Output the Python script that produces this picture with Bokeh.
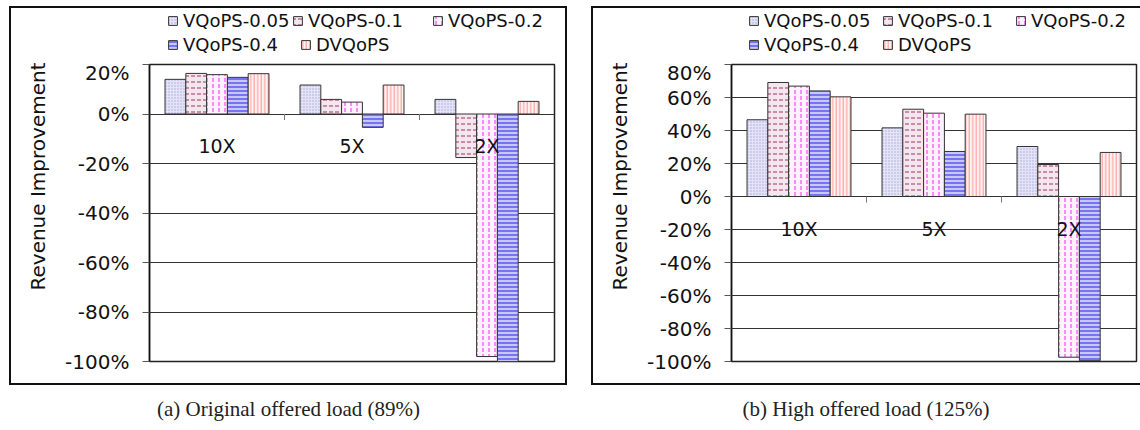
import numpy as np
from bokeh.plotting import figure
from bokeh.layouts import row, column
from bokeh.models import Range1d, FixedTicker, PrintfTickFormatter, Legend, LegendItem
from bokeh.core.properties import value
from bokeh.embed import file_html
from bokeh.resources import INLINE

# ---------------- data ----------------
categories = ["10X", "5X", "2X"]
series = ["VQoPS-0.05", "VQoPS-0.1", "VQoPS-0.2", "VQoPS-0.4", "DVQoPS"]

orig_vqops_005 = [14.0, 11.7, 5.9]
orig_vqops_01 = [16.4, 5.9, -17.6]
orig_vqops_02 = [15.9, 4.8, -98.0]
orig_vqops_04 = [14.8, -5.4, -100.0]
orig_dvqops = [16.3, 11.7, 5.1]

high_vqops_005 = [46.5, 41.6, 30.3]
high_vqops_01 = [69.1, 52.9, 19.4]
high_vqops_02 = [66.9, 50.5, -97.4]
high_vqops_04 = [64.0, 27.3, -99.5]
high_dvqops = [60.4, 49.9, 26.7]

orig_ticks = [20, 0, -20, -40, -60, -80, -100]
high_ticks = [80, 60, 40, 20, 0, -20, -40, -60, -80, -100]

y_title = "Revenue Improvement"
caption_a = "(a) Original offered load (89%)"
caption_b = "(b) High offered load (125%)"

# ---------------- styles ----------------
STYLES = [
    dict(fill_color="#e4e4f6", hatch_pattern=".", hatch_color="#a4a4dc", hatch_scale=3, hatch_weight=1),
    dict(fill_color="#f3e6ec", hatch_pattern='"', hatch_color="#a03462", hatch_scale=6, hatch_weight=1),
    dict(fill_color="#fff2ff", hatch_pattern=":", hatch_color="#ff22ff", hatch_scale=6, hatch_weight=1),
    dict(fill_color="#c8c8f8", hatch_pattern="-", hatch_color="#2020f0", hatch_scale=4, hatch_weight=1),
    dict(fill_color="#fff2f2", hatch_pattern="|", hatch_color="#ff9494", hatch_scale=3.5, hatch_weight=1),
]

FONT = "DejaVu Sans"
HEAD_H = 54
MAIN_H = 325
STRIP_W = 50
TOP, BOTTOM = 4, 24
FRAME_H = MAIN_H - TOP - BOTTOM
CAP_H = 40


def bare(width, height):
    f = figure(width=width, height=height, x_range=Range1d(0, width), y_range=Range1d(0, height),
               toolbar_location=None, output_backend="svg", title=None,
               x_axis_type=None, y_axis_type=None, min_border=0)
    f.outline_line_color = None
    f.border_fill_alpha = 0
    f.background_fill_alpha = 0
    return f


def make_panel(values, ticks, caption, box_w, border_right, legend_pos, label_x, box_style):
    ymin, ymax = min(ticks), max(ticks)
    n = len(categories)
    inner_w = box_w - STRIP_W

    # ---- y axis title strip (full box height) ----
    strip_h = HEAD_H + MAIN_H
    strip = bare(STRIP_W, strip_h)
    strip.text(x=[label_x], y=[strip_h - 170], text=[y_title], angle=np.pi / 2,
               text_align="center", text_baseline="middle", text_font=value(FONT),
               text_font_size=value("20px"), text_color="#111")

    # ---- legend header (its frame is aligned with the chart frame below) ----
    header = bare(inner_w, HEAD_H)
    for (lx, ly), name, st in zip(legend_pos, series, STYLES):
        r = header.vbar(x=[-box_w], top=[0], bottom=[0], width=0, line_color="#333",
                        line_width=1, **st)
        lg = Legend(items=[LegendItem(label=name, renderers=[r])], location=(lx, ly),
                    orientation="horizontal", border_line_color=None, background_fill_alpha=0,
                    padding=0, margin=0, spacing=0, glyph_width=11, glyph_height=11,
                    label_standoff=5, label_text_font=FONT, label_text_font_size="18px",
                    label_height=18, label_text_color="#111")
        header.add_layout(lg, "center")

    # ---- main chart ----
    p = figure(width=inner_w, height=MAIN_H, x_range=Range1d(0, n), y_range=Range1d(ymin, ymax),
               toolbar_location=None, output_backend="svg", title=None,
               min_border_left=90, min_border_right=border_right,
               min_border_top=TOP, min_border_bottom=BOTTOM)
    p.border_fill_alpha = 0
    p.outline_line_color = "#222"
    p.outline_line_width = 1.5

    bw = 0.154
    centers = np.arange(n) + 0.5
    for j, (vals, st) in enumerate(zip(values, STYLES)):
        xs = centers + (j - (len(series) - 1) / 2) * bw
        p.vbar(x=xs, top=vals, bottom=0, width=bw, line_color="#333", line_width=1, **st)

    p.text(x=centers, y=[0] * n, text=categories, text_align="center", text_baseline="middle",
           y_offset=32, text_font=value(FONT), text_font_size=value("19px"), text_color="#111")

    px_per_unit = FRAME_H / (ymax - ymin)
    bx = np.arange(1, n)
    p.segment(x0=bx, x1=bx, y0=[0] * len(bx), y1=[-6 / px_per_unit] * len(bx),
              line_color="#777", line_width=1)

    p.xaxis.visible = False
    p.xgrid.visible = False
    p.yaxis.ticker = FixedTicker(ticks=ticks)
    p.yaxis.formatter = PrintfTickFormatter(format="%d%%")
    p.yaxis.major_tick_out = 7
    p.yaxis.major_tick_in = 0
    p.yaxis.minor_tick_line_color = None
    p.yaxis.major_tick_line_color = "#555"
    p.yaxis.major_label_standoff = 13
    p.yaxis.axis_line_color = "#111"
    p.yaxis.axis_line_width = 1.5
    p.yaxis.major_label_text_font = FONT
    p.yaxis.major_label_text_font_size = "20px"
    p.yaxis.major_label_text_color = "#111"
    p.ygrid.grid_line_color = "#333"
    p.ygrid.grid_line_width = 1

    panel = row(strip, column(header, p, spacing=0), spacing=0)
    panel.styles = box_style

    cap = bare(box_w, CAP_H)
    cap.text(x=[box_w / 2], y=[CAP_H - 23], text=[caption], text_align="center",
             text_baseline="middle", text_font=value("Liberation Serif"),
             text_font_size=value("21px"), text_color="#222")
    return column(panel, cap, spacing=0)


orig_values = [orig_vqops_005, orig_vqops_01, orig_vqops_02, orig_vqops_04, orig_dvqops]
high_values = [high_vqops_005, high_vqops_01, high_vqops_02, high_vqops_04, high_dvqops]

left = make_panel(orig_values, orig_ticks, caption_a, 558, 13,
                  [(18, 29), (143, 29), (283, 29), (18, 5), (151, 5)], 28,
                  {"outline": "2px solid #111", "outline-offset": "-2px"})
right = make_panel(high_values, high_ticks, caption_b, 549, 4,
                   [(17, 29), (151, 29), (284, 29), (17, 5), (151, 5)], 28,
                   {"box-shadow": "inset 2px 0 0 0 #111, inset 0 2px 0 0 #111, inset 0 -2px 0 0 #111"})

layout = row(left, right, spacing=24, margin=(6, 0, 0, 9))

open("out.html", "w").write(file_html(layout, INLINE))
